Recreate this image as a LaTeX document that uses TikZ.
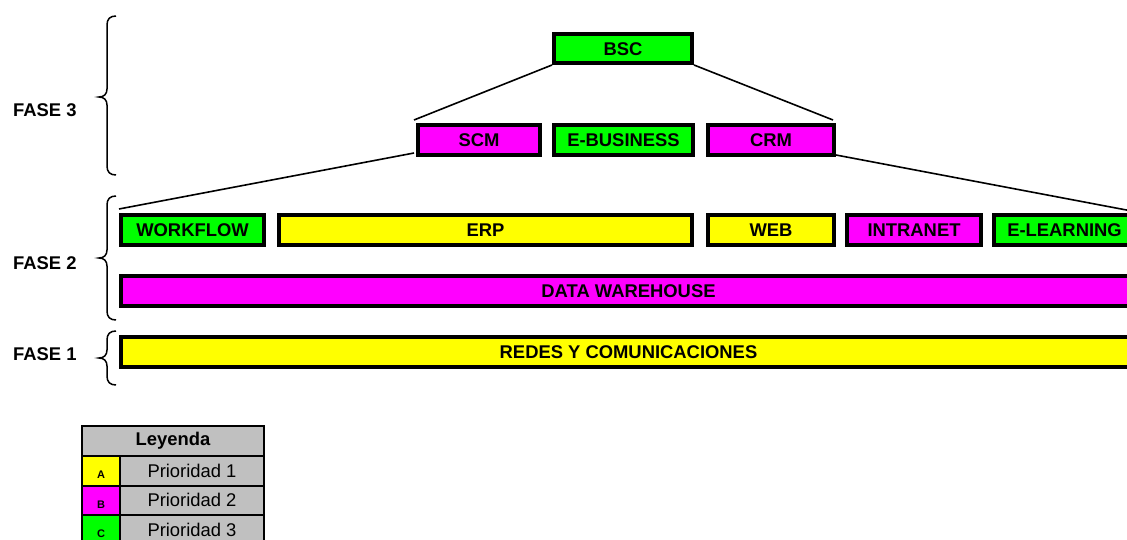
\documentclass[tikz,border=0pt]{standalone}
\usepackage{fontspec}
\setmainfont{Liberation Sans}
\usetikzlibrary{calc}
\definecolor{prioA}{HTML}{FFFF00}
\definecolor{prioB}{HTML}{FF00FF}
\definecolor{prioC}{HTML}{00FF00}
\definecolor{legendgray}{HTML}{C0C0C0}
\newcommand\boxlabelfont{\fontsize{18.4}{20}\selectfont\bfseries}
\newcommand\legendfont{\fontsize{18.4}{20}\selectfont}
\newcommand\legendletter{\fontsize{11}{12}\selectfont\bfseries}
\tikzset{
  sysbox/.style={draw=black, line width=4pt, inner sep=0pt, outer sep=0pt,
    minimum height=30pt, text height=13.2pt, text depth=0pt, font=\boxlabelfont},
  link/.style={line width=1.6pt, black},
  phasebrace/.style={line width=1.5pt, black},
  phaselabel/.style={anchor=west, inner sep=0pt, text height=13.2pt, text depth=0pt, font=\boxlabelfont},
  legcell/.style={draw=black, line width=2pt, inner sep=0pt, outer sep=0pt, minimum height=29.5pt},
}
\newcommand\drawphasebrace[3]{%
  \draw[phasebrace] (116,#1) .. controls (110,#1) and (107,#1+3) .. (107,#1+9)
    -- (107,#2-8) .. controls (107,#2-3) and (104,#2) .. (99,#2)
    .. controls (104,#2) and (107,#2+3) .. (107,#2+8)
    -- (107,#3-9) .. controls (107,#3-3) and (110,#3) .. (116,#3);}
\begin{document}
\begin{tikzpicture}[x=1pt,y=-1pt]
\useasboundingbox (0,0) rectangle (1127,540);
\clip (0,0) rectangle (1127,540);
\fill[white] (0,0) rectangle (1127,540);

% Phase 3
\node[sysbox, fill=prioC, minimum width=138pt, minimum height=29pt] (bsc) at (623,48.5) {BSC};
\node[sysbox, fill=prioB, minimum width=122pt] (scm) at (479,140) {SCM};
\node[sysbox, fill=prioC, minimum width=139pt] (ebus) at (623.5,140) {E-BUSINESS};
\node[sysbox, fill=prioB, minimum width=126pt] (crm) at (771,140) {CRM};

% Phase 2
\node[sysbox, fill=prioC, minimum width=143pt] (wf) at (192.5,230) {WORKFLOW};
\node[sysbox, fill=prioA, minimum width=413pt] (erp) at (485.5,230) {ERP};
\node[sysbox, fill=prioA, minimum width=126pt] (web) at (771,230) {WEB};
\node[sysbox, fill=prioB, minimum width=134pt] (intra) at (914,230) {INTRANET};
\node[sysbox, fill=prioC, minimum width=141pt] (elearn) at (1064.5,230) {E-LEARNING};
\node[sysbox, fill=prioB, minimum width=1015pt] (dw) at (628.5,291) {DATA WAREHOUSE};

% Phase 1
\node[sysbox, fill=prioA, minimum width=1015pt] (redes) at (628.5,352) {REDES Y COMUNICACIONES};

% Connectors
\draw[link] ([shift={(-2,2)}]bsc.south west) -- ([shift={(-4,-5)}]scm.north west);
\draw[link] ([shift={(2,2)}]bsc.south east) -- ([shift={(-1,-5)}]crm.north east);
\draw[link] ([shift={(-4,-2)}]scm.south west) -- ([shift={(-2,-6)}]wf.north west);
\draw[link] ([shift={(2,0)}]crm.south east) -- ([shift={(2,-3)}]elearn.north east);

% Phase braces and labels
\drawphasebrace{16}{97}{175}
\drawphasebrace{196}{258}{320}
\drawphasebrace{331}{358}{385}
\node[phaselabel] (f3) at (13,110) {FASE 3};
\node[phaselabel] (f2) at (13,262.5) {FASE 2};
\node[phaselabel] (f1) at (13,353.5) {FASE 1};

% Legend
\node[legcell, fill=legendgray, minimum width=182pt, font=\legendfont\bfseries] (leg) at (173,441) {Leyenda};
\node[legcell, fill=prioA, minimum width=38pt] (ca) at (101,470.75) {};
\node[legcell, fill=prioB, minimum width=38pt] (cb) at (101,500.25) {};
\node[legcell, fill=prioC, minimum width=38pt] (cc) at (101,529.75) {};
\node[legcell, fill=legendgray, minimum width=144pt, font=\legendfont] (pa) at (192,470.75) {Prioridad 1};
\node[legcell, fill=legendgray, minimum width=144pt, font=\legendfont] (pb) at (192,500.25) {Prioridad 2};
\node[legcell, fill=legendgray, minimum width=144pt, font=\legendfont] (pc) at (192,529.75) {Prioridad 3};
\node[font=\legendletter, inner sep=0pt] (la) at ([yshift=-4pt]ca.center) {A};
\node[font=\legendletter, inner sep=0pt] (lb) at ([yshift=-4pt]cb.center) {B};
\node[font=\legendletter, inner sep=0pt] (lc) at ([yshift=-4pt]cc.center) {C};
\end{tikzpicture}
\end{document}
